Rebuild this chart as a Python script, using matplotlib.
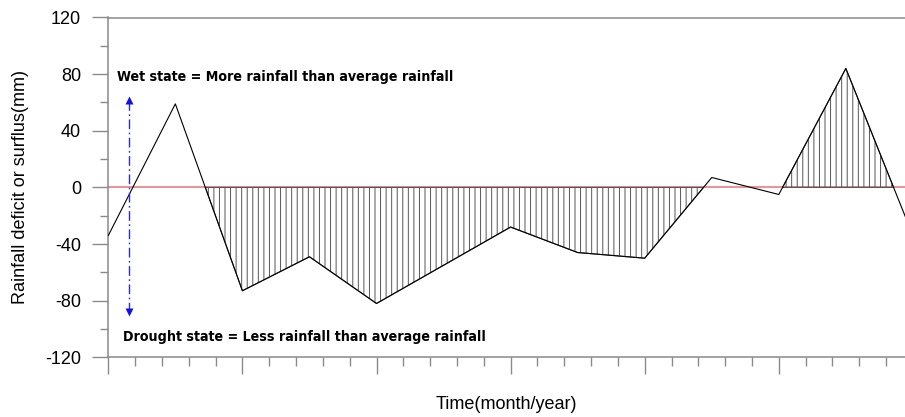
import numpy as np
import matplotlib
matplotlib.use("Agg")
import matplotlib.pyplot as plt
from matplotlib.ticker import MultipleLocator, NullFormatter

# rainfall departure from the long-term mean, sampled every 2.5 ticks
time_idx = [0, 2.5, 5, 7.5, 10, 12.5, 15, 17.5, 20, 22.5, 25, 27.5, 30]
deficit_mm = [-34, 59, -73, -49, -82, -55, -28, -46, -50, 7, -5, 84, -34]

# stretches of the record that are shaded
dry_span = (2.5, 22.5)
wet_span = (25, 30)

wet_note = "Wet state = More rainfall than average rainfall"
dry_note = "Drought state = Less rainfall than average rainfall"

plt.rcParams['font.family'] = ['Liberation Sans', 'DejaVu Sans']
plt.rcParams['axes.unicode_minus'] = False
plt.rcParams['hatch.color'] = '#333333'
plt.rcParams['hatch.linewidth'] = 0.7

x = np.array(time_idx)
y = np.array(deficit_mm)

fig = plt.figure(figsize=(9.05, 4.17), dpi=100)
ax = fig.add_axes([108.3 / 905, 59.7 / 417, 797 / 905, 339.8 / 417])

# zero reference line
ax.axhline(0, color='#ec6f78', lw=1.1, zorder=1)

# hatched deficit / surplus areas
dry = (y < 0) & (x >= dry_span[0]) & (x <= dry_span[1])
wet = (y > 0) & (x >= wet_span[0]) & (x <= wet_span[1])
for mask in (dry, wet):
    ax.fill_between(x, y, 0, where=mask, interpolate=True,
                    facecolor='none', edgecolor='#555555', hatch='|||',
                    lw=0.8, zorder=2)

ax.plot(x, y, color='black', lw=0.8, zorder=3)

# double-headed dash-dot arrow
ax.plot([0.76, 0.76], [-88, 62], color='#2a2ae0', lw=1.0,
        ls=(0, (7, 2.5, 1.2, 2.5)), zorder=4)
ax.plot(0.76, 62, marker='^', ms=5.5, color='#1010f0', mec='none', zorder=5)
ax.plot(0.76, -88, marker='v', ms=5.5, color='#1010f0', mec='none', zorder=5)

note_font = dict(family='DejaVu Sans', fontstretch='condensed',
                 fontweight='bold', fontsize=10.2, va='center', ha='left')
ax.text(0.33, 78, wet_note, **note_font)
ax.text(0.55, -105.5, dry_note, **note_font)

ax.set_xlim(0, 797 / 26.82)
ax.set_ylim(-120, 120)

ax.yaxis.set_major_locator(MultipleLocator(40))
ax.yaxis.set_minor_locator(MultipleLocator(20))
ax.xaxis.set_major_locator(MultipleLocator(5))
ax.xaxis.set_minor_locator(MultipleLocator(1))
ax.xaxis.set_major_formatter(NullFormatter())

for side in ('left', 'bottom', 'top'):
    ax.spines[side].set_color('#8a8a8a')
    ax.spines[side].set_linewidth(1.1)
ax.spines['right'].set_visible(False)

ax.tick_params(axis='y', which='major', length=11.5, width=1.0,
               color='#8a8a8a', labelsize=13, pad=8)
ax.tick_params(axis='y', which='minor', length=5.8, width=1.0,
               color='#8a8a8a')
ax.tick_params(axis='x', which='major', length=12.2, width=1.0,
               color='#8a8a8a')
ax.tick_params(axis='x', which='minor', length=6.5, width=1.0,
               color='#8a8a8a')

ax.set_ylabel("Rainfall deficit or surflus(mm)", fontsize=13)
ax.yaxis.set_label_coords(-0.1, 0.5)
ax.set_xlabel("Time(month/year)", fontsize=13)
ax.xaxis.set_label_coords(0.5, -0.115)

fig.savefig("out.png", dpi=100)
